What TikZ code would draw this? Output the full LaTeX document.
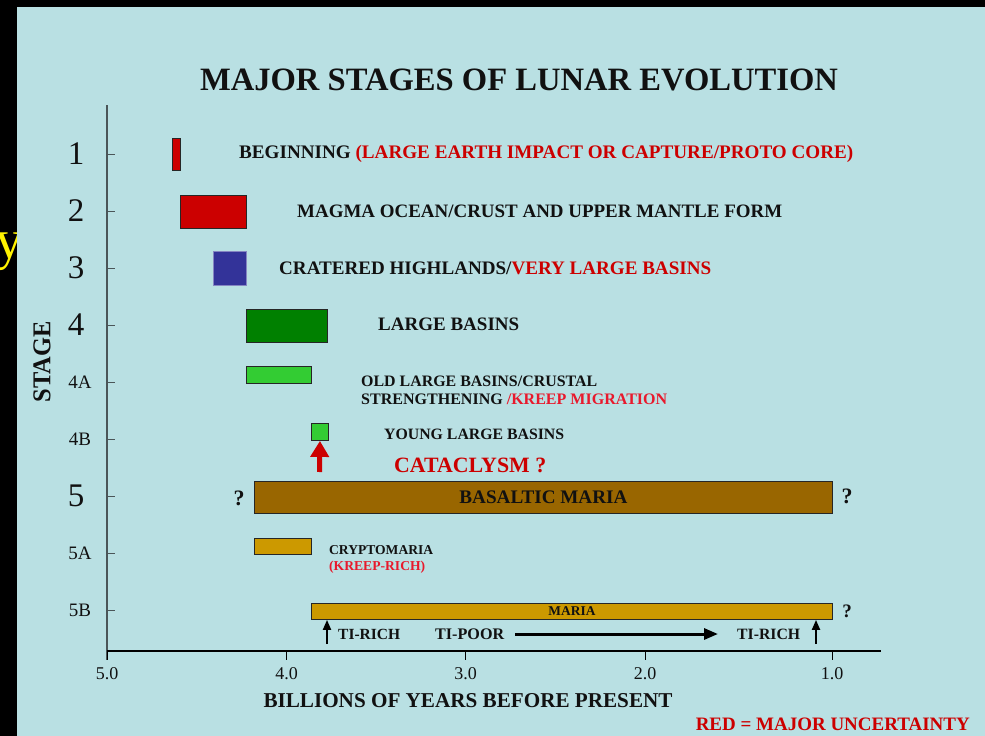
\documentclass[tikz,border=0pt]{standalone}
\usepackage{fontspec}
\setmainfont{Liberation Serif}
\usepackage{graphicx}
\usetikzlibrary{arrows.meta}
\definecolor{bgblue}{HTML}{B9E0E3}
\definecolor{uncred}{HTML}{CC0000}
\definecolor{brightred}{HTML}{E8192C}
\definecolor{barred}{HTML}{CC0000}
\definecolor{barblue}{HTML}{333399}
\definecolor{bardkgreen}{HTML}{008000}
\definecolor{barltgreen}{HTML}{33CC33}
\definecolor{barbrown}{HTML}{996600}
\definecolor{bargold}{HTML}{CC9900}
\definecolor{axisgray}{HTML}{4A5558}
\definecolor{txt}{HTML}{111111}
\newcommand\fitw[2]{\resizebox{#1pt}{!}{#2}}
\begin{document}
\begin{tikzpicture}[x=1pt,y=-1pt,
  bar/.style={draw=black!85, line width=0.9pt, inner sep=0pt, anchor=north west},
  lbl/.style={inner sep=0pt, anchor=west, text=txt, font=\bfseries\fontsize{18}{18}\selectfont},
  stagenum/.style={inner sep=0pt, text=txt, font=\fontsize{33}{33}\selectfont},
  stagesub/.style={inner sep=0pt, text=txt, font=\fontsize{19}{19}\selectfont},
  ticklbl/.style={inner sep=0pt, text=txt, font=\fontsize{18}{18}\selectfont},
  ytick/.style={axisgray, line width=1pt},
  xtick/.style={black, line width=1pt},
  qmark/.style={inner sep=0pt, text=txt, font=\bfseries\fontsize{22}{22}\selectfont},
  uparrow/.style={-{Triangle[width=8pt,length=10pt]}, line width=2pt, black}
]
\useasboundingbox (0,0) rectangle (985,736);
% frame
\fill[black] (0,0) rectangle (985,736);
\node[inner sep=0pt, anchor=base east, text=yellow, font=\fontsize{56}{56}\selectfont] (ylet) at (24,258) {y};
\fill[bgblue] (17,7) rectangle (985,736);

% title
\node[inner sep=0pt, text=txt, font=\bfseries\fontsize{31}{31}\selectfont] (title) at (519,80) {\fitw{638}{MAJOR STAGES OF LUNAR EVOLUTION}};

% axes
\coordinate (vtop) at (107,105);
\coordinate (vbot) at (107,660);
\coordinate (hleft) at (107,651);
\coordinate (hright) at (881,651);
\draw[axisgray, line width=1.2pt] (vtop) -- (vbot);
\draw[black, line width=1.2pt] (hleft) -- (hright);

% y ticks and labels
\foreach \yy/\lab/\sty/\xx/\nm in {154/1/stagenum/76/s1, 211/2/stagenum/76/s2, 268/3/stagenum/76/s3, 325/4/stagenum/76/s4, 382/4A/stagesub/80/s4A, 439/4B/stagesub/80/s4B, 496/5/stagenum/76/s5, 553/5A/stagesub/80/s5A, 610/5B/stagesub/80/s5B}{
  \draw[ytick] (107,\yy) -- (115,\yy);
  \node[\sty] (\nm) at (\xx,\yy) {\lab};
}
\node[inner sep=0pt, rotate=90, text=txt, font=\bfseries\fontsize{24}{24}\selectfont] (stage) at (42,362) {\resizebox{81pt}{17pt}{STAGE}};

% x ticks and labels
\foreach \xx/\lab/\nm in {107/5.0/x5, 286.5/4.0/x4, 465.5/3.0/x3, 645/2.0/x2, 832/1.0/x1}{
  \draw[xtick] (\xx,651) -- (\xx,660);
  \node[ticklbl] (\nm) at (\xx,674) {\lab};
}
\node[inner sep=0pt, text=txt, font=\bfseries\fontsize{20}{20}\selectfont] (xlab) at (468,701) {\fitw{409}{BILLIONS OF YEARS BEFORE PRESENT}};
\node[inner sep=0pt, anchor=east, text=uncred, font=\bfseries\fontsize{17}{17}\selectfont] (redkey) at (970,724) {\fitw{274}{RED = MAJOR UNCERTAINTY}};

% bars
\node[bar, fill=barred, minimum width=8pt, minimum height=32pt] (b1) at (172,138) {};
\node[bar, fill=barred, minimum width=66pt, minimum height=33pt] (b2) at (180,195) {};
\node[bar, fill=barblue, draw=barblue!60!white, minimum width=33pt, minimum height=34pt] (b3) at (213,251) {};
\node[bar, fill=bardkgreen, minimum width=81pt, minimum height=33pt] (b4) at (246,309) {};
\node[bar, fill=barltgreen, minimum width=65pt, minimum height=16.5pt] (b4A) at (246,366) {};
\node[bar, fill=barltgreen, minimum width=17pt, minimum height=17pt] (b4B) at (311,423) {};
\node[bar, fill=barbrown, minimum width=578pt, minimum height=32pt] (b5) at (254,481) {};
\node[bar, fill=bargold, minimum width=57pt, minimum height=16.5pt] (b5A) at (254,537.5) {};
\node[bar, fill=bargold, minimum width=521pt, minimum height=16.5pt] (b5B) at (311,602.5) {};

% labels
\node[lbl] (t1) at (239,154) {\fitw{614}{BEGINNING \textcolor{uncred}{(LARGE EARTH IMPACT OR CAPTURE/PROTO CORE)}}};
\node[lbl] (t2) at (297,211) {\fitw{485}{MAGMA OCEAN/CRUST AND UPPER MANTLE FORM}};
\node[lbl] (t3) at (279,268.5) {\fitw{432}{CRATERED HIGHLANDS/\textcolor{uncred}{VERY LARGE BASINS}}};
\node[lbl] (t4) at (378,324.5) {\fitw{141}{LARGE BASINS}};
\node[lbl] (t4Aa) at (361,381) {\fitw{236}{OLD LARGE BASINS/CRUSTAL}};
\node[lbl] (t4Ab) at (361,399.5) {\fitw{306}{STRENGTHENING \textcolor{brightred}{/KREEP MIGRATION}}};
\node[lbl] (t4B) at (384,434.5) {\fitw{180}{YOUNG LARGE BASINS}};
\node[lbl, text=uncred] (cat) at (394,465) {\fitw{152}{CATACLYSM ?}};
\node[inner sep=0pt, text=txt, font=\bfseries\fontsize{18}{18}\selectfont] (t5) at (b5.center) {\fitw{168}{BASALTIC MARIA}};
\node[qmark, anchor=center] (q5l) at (239,498) {?};
\node[qmark, anchor=center] (q5r) at (847,496) {?};
\node[lbl] (t5Aa) at (329,550.5) {\fitw{104}{CRYPTOMARIA}};
\node[lbl, text=brightred] (t5Ab) at (329,567) {\fitw{96}{(KREEP-RICH)}};
\node[inner sep=0pt, text=txt, font=\bfseries\fontsize{12}{12}\selectfont] (t5B) at (b5B.center) {\fitw{47}{MARIA}};
\node[qmark, anchor=center, font=\bfseries\fontsize{19}{19}\selectfont] (q5Br) at (847,611) {?};
\node[lbl] (tir1) at (338,634) {\fitw{62}{TI-RICH}};
\node[lbl] (tip) at (435,634) {\fitw{69}{TI-POOR}};
\node[lbl] (tir2) at (737,634) {\fitw{63}{TI-RICH}};

% arrows
\coordinate (ra) at (319.5,472);
\draw[-{Triangle[width=18pt,length=16pt]}, line width=5pt, barred] (ra) -- (b4B.south);
\coordinate (ua1) at (327,644);
\coordinate (ua2) at (816,644);
\draw[uparrow] (ua1) -- (ua1 |- b5B.south);
\draw[uparrow] (ua2) -- (ua2 |- b5B.south);
\draw[-{Triangle[width=11pt,length=14pt]}, line width=3pt, black] ([xshift=11pt]tip.east) -- ([xshift=-19pt]tir2.west);
\end{tikzpicture}
\end{document}
